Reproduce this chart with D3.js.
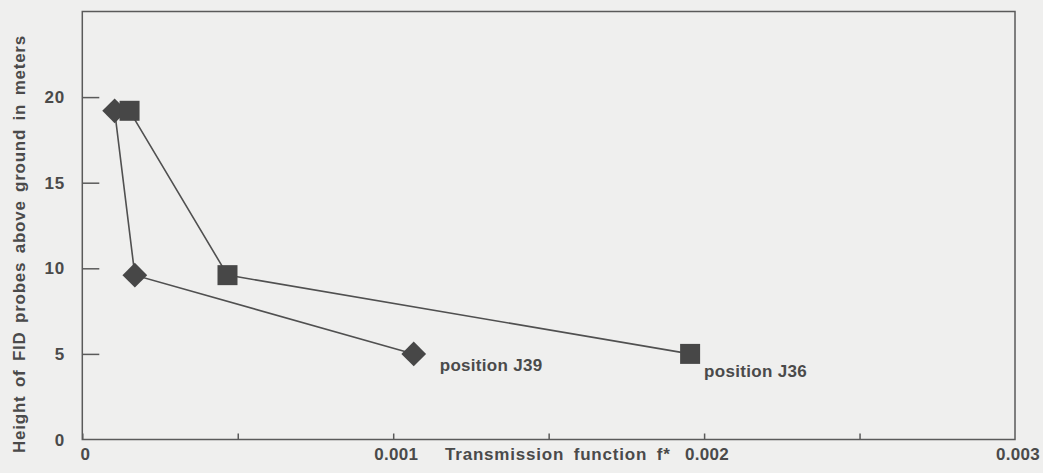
<!DOCTYPE html>
<html>
<head>
<meta charset="utf-8">
<script src="https://cdn.jsdelivr.net/npm/d3@7"></script>
<style>
  html, body { margin: 0; padding: 0; background: #efefee; }
  svg { display: block; }
  text { font-family: "Liberation Sans", Arial, Helvetica, sans-serif; font-weight: bold; fill: #4a4a4a; }
</style>
</head>
<body>
<svg id="chart" width="1043" height="473"></svg>
<script>
// ---- data ----
const seriesNames = ["position J39", "position J36"];
const j39X = [0.000104, 0.000169, 0.001066];
const j39Y = [19.2, 9.6, 5.0];
const j36X = [0.000152, 0.000467, 0.001955];
const j36Y = [19.2, 9.6, 5.0];
const xTickValues = [0, 0.0005, 0.001, 0.0015, 0.002, 0.0025];
const xLabelValues = [0, 0.001, 0.002, 0.003];
const yTickValues = [5, 10, 15, 20];
const yLabelValues = [0, 5, 10, 15, 20];
const xTitle = "Transmission function f*";
const yTitle = "Height of FID probes above ground in meters";

// ---- layout ----
const svg = d3.select("#chart");
const mLeft = 82.3, mRight = 1015, mTop = 11.5, mBottom = 439.5;
const x = d3.scaleLinear().domain([0, 0.003]).range([mLeft, mRight]);
const y = d3.scaleLinear().domain([0, 25]).range([mBottom, mTop]);
const axisColor = "#5a5a5a";
const fs = 17;

// frame
svg.append("rect")
  .attr("x", mLeft).attr("y", mTop)
  .attr("width", mRight - mLeft).attr("height", mBottom - mTop)
  .attr("fill", "none").attr("stroke", axisColor).attr("stroke-width", 1.5);

// x axis ticks (inward)
const xAxis = d3.axisTop(x).tickValues(xTickValues).tickSize(6).tickFormat("");
const gx = svg.append("g").attr("transform", `translate(0,${mBottom})`).call(xAxis);
gx.select(".domain").remove();
gx.selectAll(".tick line").attr("stroke", axisColor).attr("stroke-width", 1.5);

// y axis ticks (inward)
const yAxis = d3.axisRight(y).tickValues(yTickValues).tickSize(17).tickFormat("");
const gy = svg.append("g").attr("transform", `translate(${mLeft},0)`).call(yAxis);
gy.select(".domain").remove();
gy.selectAll(".tick line").attr("stroke", axisColor).attr("stroke-width", 1.5);

// x labels
svg.append("g").selectAll("text").data(xLabelValues).join("text")
  .attr("x", d => x(d) + 3)
  .attr("y", 459.5)
  .attr("text-anchor", "middle")
  .attr("font-size", fs)
  .style("letter-spacing", "0.3px")
  .text(d => d === 0 ? "0" : d3.format(".3f")(d));

// y labels
svg.append("g").selectAll("text").data(yLabelValues).join("text")
  .attr("x", 65)
  .attr("y", d => y(d) + 6)
  .attr("text-anchor", "end")
  .attr("font-size", fs)
  .style("letter-spacing", "0.8px")
  .text(d => d);

// titles
svg.append("text")
  .attr("x", 445).attr("y", 459.5)
  .attr("font-size", fs)
  .style("letter-spacing", "0.8px")
  .style("word-spacing", "4px")
  .text(xTitle);

svg.append("text")
  .attr("transform", "translate(25,244) rotate(-90)")
  .attr("text-anchor", "middle")
  .attr("font-size", fs)
  .style("letter-spacing", "0.75px")
  .style("word-spacing", "3px")
  .text(yTitle);

// series
const line = d3.line().x(d => x(d[0])).y(d => y(d[1]));
const j39 = j39X.map((v, i) => [v, j39Y[i]]);
const j36 = j36X.map((v, i) => [v, j36Y[i]]);

[j39, j36].forEach(s => {
  svg.append("path").datum(s).attr("d", line)
    .attr("fill", "none").attr("stroke", "#505050").attr("stroke-width", 1.6);
});

const markColor = "#474747";
const diamond = d3.symbol().type(d3.symbolSquare).size(17.5 * 17.5);
svg.append("g").selectAll("path").data(j39).join("path")
  .attr("d", diamond)
  .attr("transform", d => `translate(${x(d[0])},${y(d[1])}) rotate(45)`)
  .attr("fill", markColor);

const square = d3.symbol().type(d3.symbolSquare).size(20 * 20);
svg.append("g").selectAll("path").data(j36).join("path")
  .attr("d", square)
  .attr("transform", d => `translate(${x(d[0])},${y(d[1])})`)
  .attr("fill", markColor);

// series labels at last points
const lastJ39 = j39[j39.length - 1], lastJ36 = j36[j36.length - 1];
svg.append("text")
  .attr("x", x(lastJ39[0]) + 26).attr("y", y(lastJ39[1]) + 17.5)
  .attr("font-size", fs).style("letter-spacing", "0.3px")
  .text(seriesNames[0]);
svg.append("text")
  .attr("x", x(lastJ36[0]) + 14).attr("y", y(lastJ36[1]) + 23.5)
  .attr("font-size", fs).style("letter-spacing", "0.3px")
  .text(seriesNames[1]);
</script>
</body>
</html>
